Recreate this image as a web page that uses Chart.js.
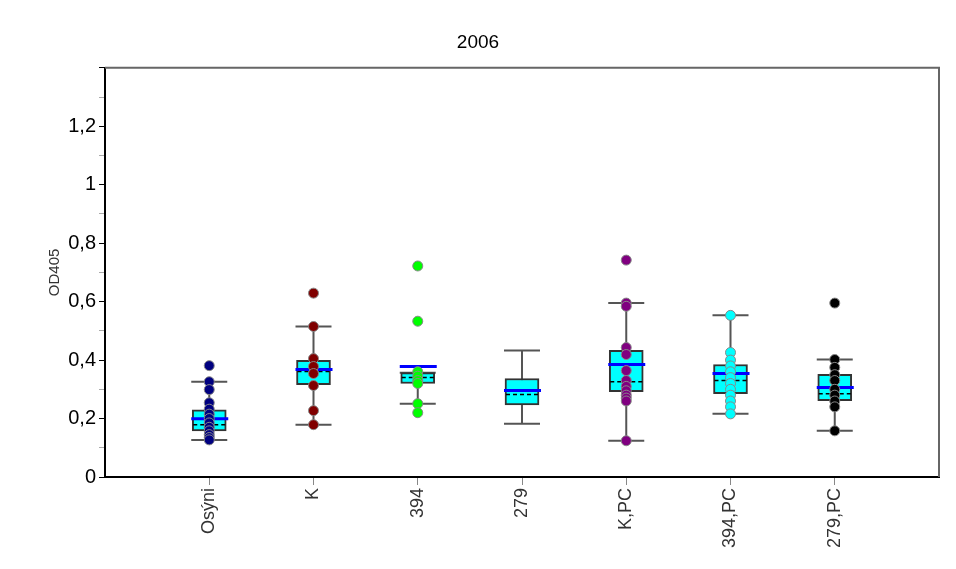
<!DOCTYPE html>
<html>
<head>
<meta charset="utf-8">
<script src="https://cdn.jsdelivr.net/npm/chart.js@4.4.1/dist/chart.umd.min.js"></script>
<style>
html,body{margin:0;padding:0;background:#fff;}
#wrap{width:956px;height:569px;}
</style>
</head>
<body>
<div id="wrap"><canvas id="c" width="956" height="569"></canvas></div>
<script>
const categories = ["Osýni", "K", "394", "279", "K,PC", "394,PC", "279,PC"];
const q1 =        [0.158, 0.316, 0.320, 0.247, 0.292, 0.285, 0.261];
const q3 =        [0.230, 0.399, 0.357, 0.337, 0.433, 0.385, 0.351];
const median =    [0.179, 0.361, 0.340, 0.282, 0.326, 0.330, 0.285];
const mean =      [0.199, 0.368, 0.378, 0.296, 0.385, 0.354, 0.306];
const whiskerLow =  [0.127, 0.179, 0.251, 0.182, 0.124, 0.216, 0.158];
const whiskerHigh = [0.326, 0.515, 0.357, 0.433, 0.595, 0.553, 0.402];

const pointsOsyni = [0.381, 0.326, 0.299, 0.254, 0.232, 0.215, 0.200, 0.185, 0.170, 0.158, 0.145, 0.135, 0.127];
const pointsK     = [0.629, 0.515, 0.405, 0.378, 0.354, 0.313, 0.227, 0.179];
const points394   = [0.722, 0.533, 0.360, 0.345, 0.330, 0.320, 0.251, 0.220];
const points279   = [];
const pointsKPC   = [0.742, 0.595, 0.584, 0.443, 0.419, 0.364, 0.330, 0.310, 0.295, 0.280, 0.270, 0.260, 0.124];
const points394PC = [0.553, 0.426, 0.400, 0.380, 0.360, 0.340, 0.320, 0.300, 0.280, 0.260, 0.240, 0.216];
const points279PC = [0.595, 0.402, 0.375, 0.350, 0.330, 0.300, 0.280, 0.260, 0.240, 0.158];

const pointSets = [pointsOsyni, pointsK, points394, points279, pointsKPC, points394PC, points279PC];
const pointColors = ["#000080", "#800000", "#00ff00", "#000000", "#800080", "#00ffff", "#000000"];

const FONT = "'Liberation Sans', Arial, sans-serif";

const boxDecor = {
  id: 'boxDecor',
  beforeDatasetsDraw(chart) {
    const {ctx, scales:{x, y}} = chart;
    ctx.save();
    ctx.strokeStyle = '#555';
    ctx.lineWidth = 2;
    for (let i = 0; i < categories.length; i++) {
      const cx = x.getPixelForValue(i + 1);
      const lo = y.getPixelForValue(whiskerLow[i]);
      const hi = y.getPixelForValue(whiskerHigh[i]);
      ctx.beginPath();
      ctx.moveTo(cx, lo); ctx.lineTo(cx, hi);
      ctx.moveTo(cx - 18, lo); ctx.lineTo(cx + 18, lo);
      ctx.moveTo(cx - 18, hi); ctx.lineTo(cx + 18, hi);
      ctx.stroke();
    }
    ctx.restore();
  },
  afterDatasetDraw(chart, args) {
    if (args.index !== 0) return;
    const {ctx, scales:{x, y}} = chart;
    ctx.save();
    for (let i = 0; i < categories.length; i++) {
      const cx = x.getPixelForValue(i + 1);
      const md = y.getPixelForValue(median[i]);
      const mn = y.getPixelForValue(mean[i]);
      ctx.setLineDash([4, 3]);
      ctx.strokeStyle = '#000';
      ctx.lineWidth = 1.5;
      ctx.beginPath(); ctx.moveTo(cx - 16, md); ctx.lineTo(cx + 16, md); ctx.stroke();
      ctx.setLineDash([]);
      ctx.strokeStyle = '#0000ff';
      ctx.lineWidth = 3;
      ctx.beginPath(); ctx.moveTo(cx - 18, mn); ctx.lineTo(cx + 19, mn); ctx.stroke();
    }
    ctx.restore();
  },
  afterDraw(chart) {
    const {ctx, chartArea:a} = chart;
    ctx.save();
    ctx.strokeStyle = '#666';
    ctx.lineWidth = 2;
    ctx.beginPath();
    ctx.moveTo(a.left, a.top); ctx.lineTo(a.right, a.top); ctx.lineTo(a.right, a.bottom);
    ctx.stroke();
    ctx.restore();
  }
};

const datasets = [{
  type: 'bar',
  label: 'box',
  data: categories.map((c, i) => ({x: i + 1, y: [q1[i], q3[i]]})),
  backgroundColor: '#00ffff',
  borderColor: '#333',
  borderWidth: 2,
  borderSkipped: false,
  barThickness: 34,
  order: 2
}];
pointSets.forEach((pts, i) => {
  datasets.push({
    type: 'scatter',
    label: categories[i],
    data: pts.map(v => ({x: i + 1, y: v})),
    backgroundColor: pointColors[i],
    borderColor: '#888',
    borderWidth: 1,
    pointRadius: 5,
    pointHoverRadius: 5,
    order: 1
  });
});

new Chart(document.getElementById('c'), {
  data: {datasets},
  plugins: [boxDecor],
  options: {
    responsive: false,
    animation: false,
    layout: {padding: {left: 0, right: 0, top: 0, bottom: 0}},
    plugins: {
      legend: {display: false},
      tooltip: {enabled: false},
      title: {
        display: true, text: '2006', color: '#000',
        font: {family: FONT, size: 19, weight: 'normal'},
        padding: {top: 31, bottom: 14}
      }
    },
    scales: {
      x: {
        type: 'linear', min: 0, max: 8, offset: false,
        afterBuildTicks(s) { s.ticks = categories.map((c, i) => ({value: i + 1})); },
        afterFit(s) { s.height = 92; },
        ticks: {
          autoSkip: false, maxRotation: 90, minRotation: 90,
          color: '#333', padding: 3,
          font: {family: FONT, size: 18},
          callback: (v) => categories[v - 1] || ''
        },
        grid: {drawOnChartArea: false, offset: false, tickLength: 8, tickColor: '#888', tickWidth: 1},
        border: {display: true, color: '#000', width: 2}
      },
      y: {
        type: 'linear', min: 0, max: 1.4,
        afterBuildTicks(s) {
          const t = [];
          for (let i = 0; i <= 28; i++) t.push({value: Math.round(i * 5) / 100});
          s.ticks = t;
        },
        afterFit(s) { s.width = 105; },
        title: {
          display: true, text: 'OD405', color: '#333',
          font: {family: FONT, size: 15},
          padding: {top: 46, bottom: 0}
        },
        ticks: {
          color: '#000', padding: 3,
          font: {family: FONT, size: 20},
          callback: (v) => {
            const k = Math.round(v * 100);
            if (k % 20 !== 0 || k > 120) return '';
            return String(k / 100).replace('.', ',');
          }
        },
        grid: {
          drawOnChartArea: false, tickLength: 6, tickWidth: 1,
          tickColor: (c) => (Math.round(c.tick.value * 100) % 20 === 0 ? '#000' : '#aaa')
        },
        border: {display: true, color: '#000', width: 2}
      },
      yr: {
        type: 'linear', position: 'right', display: true,
        afterFit(s) { s.width = 17; },
        ticks: {display: false},
        grid: {display: false},
        border: {display: false}
      }
    }
  }
});
</script>
</body>
</html>
